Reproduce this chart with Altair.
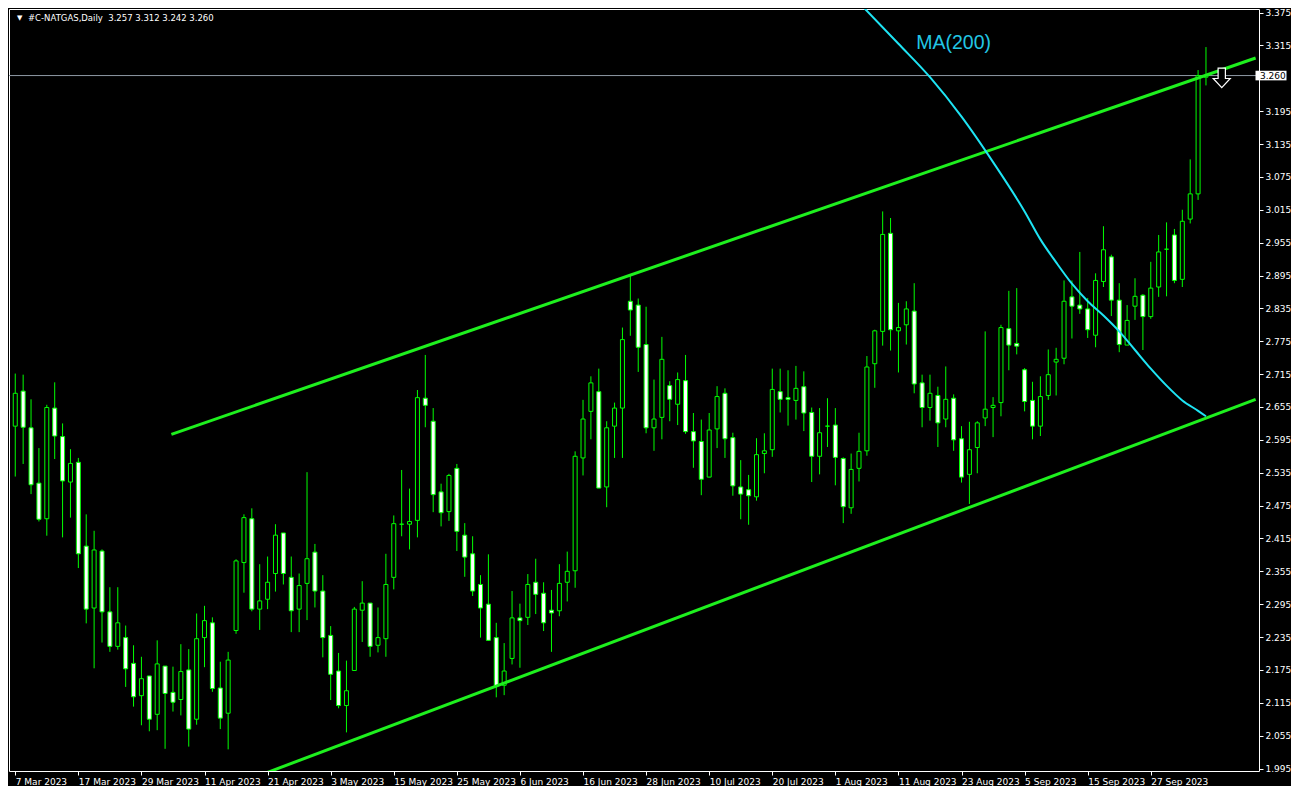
import altair as alt
import pandas as pd

# ---------------- data ----------------
tick_labels = ['7 Mar 2023', '17 Mar 2023', '29 Mar 2023', '11 Apr 2023', '21 Apr 2023',
               '3 May 2023', '15 May 2023', '25 May 2023', '6 Jun 2023', '16 Jun 2023',
               '28 Jun 2023', '10 Jul 2023', '20 Jul 2023', '1 Aug 2023', '11 Aug 2023',
               '23 Aug 2023', '5 Sep 2023', '15 Sep 2023', '27 Sep 2023']
tick_pos = [0, 8, 16, 24, 32, 40, 48, 56, 64, 72, 80, 88, 96, 104, 112, 120, 128, 136, 144]

# 3.255 sits under the highlighted 3.260 price box in the reference
price_ticks = [1.995, 2.055, 2.115, 2.175, 2.235, 2.295, 2.355, 2.415, 2.475, 2.535, 2.595,
               2.655, 2.715, 2.775, 2.835, 2.895, 2.955, 3.015, 3.075, 3.135, 3.195,
               3.315, 3.375]

open_ = [2.620, 2.684, 2.617, 2.516, 2.451, 2.653, 2.601, 2.518, 2.554, 2.401,
         2.288, 2.392, 2.281, 2.218, 2.234, 2.187, 2.128, 2.164, 2.094, 2.182,
         2.134, 2.121, 2.175, 2.085, 2.234, 2.261, 2.142, 2.096, 2.247, 2.371,
         2.451, 2.286, 2.304, 2.351, 2.425, 2.344, 2.286, 2.333, 2.390, 2.319,
         2.238, 2.173, 2.110, 2.174, 2.284, 2.297, 2.220, 2.232, 2.344, 2.441,
         2.441, 2.448, 2.671, 2.629, 2.500, 2.464, 2.543, 2.421, 2.387, 2.331,
         2.295, 2.234, 2.147, 2.196, 2.270, 2.271, 2.335, 2.315, 2.284, 2.283,
         2.335, 2.356, 2.562, 2.647, 2.683, 2.509, 2.620, 2.653, 2.848, 2.841,
         2.769, 2.617, 2.636, 2.694, 2.660, 2.703, 2.610, 2.592, 2.527, 2.615,
         2.680, 2.599, 2.509, 2.504, 2.491, 2.570, 2.577, 2.683, 2.672, 2.667,
         2.692, 2.645, 2.565, 2.620, 2.622, 2.561, 2.471, 2.543, 2.575, 2.734,
         2.793, 2.972, 2.794, 2.805, 2.830, 2.699, 2.654, 2.676, 2.633, 2.671,
         2.597, 2.532, 2.581, 2.635, 2.654, 2.663, 2.798, 2.771, 2.723, 2.667,
         2.620, 2.676, 2.737, 2.744, 2.856, 2.841, 2.834, 2.786, 2.884, 2.929,
         2.850, 2.768, 2.839, 2.859, 2.820, 2.874, 2.943, 2.969, 2.888, 2.998,
         3.044, 3.257]

high = [2.716, 2.714, 2.669, 2.580, 2.659, 2.700, 2.625, 2.578, 2.562, 2.459,
        2.429, 2.395, 2.326, 2.326, 2.256, 2.220, 2.199, 2.164, 2.229, 2.182,
        2.181, 2.222, 2.213, 2.278, 2.292, 2.271, 2.190, 2.208, 2.377, 2.459,
        2.470, 2.368, 2.382, 2.441, 2.425, 2.382, 2.351, 2.536, 2.405, 2.348,
        2.255, 2.206, 2.192, 2.290, 2.337, 2.297, 2.289, 2.387, 2.457, 2.540,
        2.506, 2.686, 2.750, 2.653, 2.515, 2.533, 2.551, 2.443, 2.419, 2.348,
        2.386, 2.261, 2.224, 2.319, 2.296, 2.350, 2.378, 2.335, 2.321, 2.368,
        2.391, 2.574, 2.668, 2.711, 2.725, 2.629, 2.663, 2.800, 2.895, 2.853,
        2.838, 2.705, 2.783, 2.702, 2.718, 2.750, 2.644, 2.632, 2.644, 2.693,
        2.689, 2.608, 2.558, 2.531, 2.598, 2.607, 2.725, 2.725, 2.722, 2.730,
        2.720, 2.654, 2.653, 2.671, 2.653, 2.563, 2.570, 2.608, 2.748, 2.796,
        3.012, 3.000, 2.845, 2.848, 2.881, 2.714, 2.714, 2.692, 2.729, 2.678,
        2.620, 2.628, 2.629, 2.793, 2.673, 2.805, 2.867, 2.872, 2.726, 2.701,
        2.711, 2.760, 2.763, 2.886, 2.886, 2.938, 2.854, 2.899, 2.985, 2.933,
        2.881, 2.841, 2.890, 2.861, 2.920, 2.969, 2.992, 2.980, 3.015, 3.107,
        3.270, 3.312]

low = [2.528, 2.551, 2.496, 2.446, 2.420, 2.560, 2.417, 2.453, 2.361, 2.260,
       2.178, 2.225, 2.208, 2.212, 2.144, 2.108, 2.074, 2.063, 2.065, 2.031,
       2.099, 2.092, 2.035, 2.075, 2.180, 2.135, 2.067, 2.030, 2.241, 2.316,
       2.282, 2.248, 2.286, 2.318, 2.331, 2.244, 2.244, 2.266, 2.289, 2.198,
       2.120, 2.105, 2.061, 2.174, 2.226, 2.199, 2.207, 2.199, 2.322, 2.419,
       2.395, 2.417, 2.618, 2.463, 2.437, 2.447, 2.392, 2.345, 2.310, 2.234,
       2.228, 2.125, 2.129, 2.185, 2.179, 2.257, 2.277, 2.246, 2.208, 2.273,
       2.300, 2.325, 2.530, 2.596, 2.507, 2.472, 2.562, 2.562, 2.785, 2.719,
       2.607, 2.575, 2.596, 2.629, 2.622, 2.606, 2.544, 2.494, 2.527, 2.580,
       2.562, 2.493, 2.450, 2.440, 2.484, 2.534, 2.564, 2.645, 2.621, 2.632,
       2.611, 2.518, 2.532, 2.582, 2.512, 2.443, 2.460, 2.519, 2.566, 2.690,
       2.767, 2.758, 2.718, 2.769, 2.680, 2.618, 2.630, 2.582, 2.618, 2.575,
       2.517, 2.478, 2.534, 2.620, 2.600, 2.638, 2.722, 2.751, 2.647, 2.596,
       2.602, 2.668, 2.676, 2.733, 2.780, 2.825, 2.781, 2.764, 2.874, 2.821,
       2.755, 2.768, 2.814, 2.759, 2.816, 2.856, 2.857, 2.881, 2.874, 2.990,
       3.033, 3.242]

close = [2.680, 2.618, 2.513, 2.450, 2.654, 2.602, 2.520, 2.552, 2.387, 2.286,
         2.394, 2.281, 2.218, 2.261, 2.177, 2.126, 2.159, 2.085, 2.186, 2.132,
         2.116, 2.172, 2.067, 2.232, 2.265, 2.141, 2.087, 2.193, 2.374, 2.453,
         2.286, 2.301, 2.335, 2.421, 2.351, 2.283, 2.329, 2.378, 2.319, 2.234,
         2.167, 2.110, 2.137, 2.286, 2.297, 2.218, 2.234, 2.331, 2.442, 2.441,
         2.446, 2.672, 2.658, 2.495, 2.462, 2.530, 2.428, 2.381, 2.319, 2.288,
         2.229, 2.146, 2.173, 2.270, 2.265, 2.331, 2.313, 2.261, 2.279, 2.333,
         2.355, 2.565, 2.633, 2.699, 2.507, 2.617, 2.653, 2.778, 2.832, 2.764,
         2.617, 2.633, 2.742, 2.669, 2.705, 2.610, 2.593, 2.523, 2.613, 2.674,
         2.597, 2.511, 2.496, 2.493, 2.568, 2.575, 2.687, 2.669, 2.669, 2.689,
         2.644, 2.565, 2.608, 2.620, 2.563, 2.473, 2.541, 2.574, 2.728, 2.794,
         2.970, 2.796, 2.800, 2.834, 2.697, 2.654, 2.680, 2.626, 2.669, 2.595,
         2.527, 2.577, 2.626, 2.651, 2.658, 2.800, 2.768, 2.766, 2.665, 2.620,
         2.674, 2.714, 2.742, 2.848, 2.839, 2.834, 2.796, 2.886, 2.942, 2.850,
         2.769, 2.813, 2.857, 2.820, 2.872, 2.938, 2.943, 2.886, 2.994, 3.044,
         3.260, 3.260]

# MA(200) line (bar index, price)
ma_idx = [107.6, 112, 116, 120, 124, 128, 130, 132, 134, 136, 138, 140, 142, 144, 146, 148, 150, 151]
ma_val = [3.384, 3.318, 3.257, 3.185, 3.102, 3.012, 2.961, 2.919, 2.880, 2.848, 2.822,
          2.793, 2.759, 2.725, 2.694, 2.667, 2.648, 2.638]

# channel lines (bar index, price)
upper_idx = [19.8, 157.3]
upper_val = [2.605, 3.292]
lower_idx = [32.0, 157.3]
lower_val = [1.988, 2.669]

last_price = 3.260
header = "#C-NATGAS,Daily\u00a0\u00a03.257 3.312 3.242 3.260"

# ---------------- chart ----------------
X_DOM = [-0.16, 157.09]
Y_DOM = [1.9905, 3.3815]
W, H = 1250, 762
FONT = "DejaVu Sans"
GREEN = "#00ff00"
LINE_GREEN = "#1ef01e"
CYAN = "#1ee4f4"

xs = alt.Scale(domain=X_DOM, nice=False, zero=False)
ys = alt.Scale(domain=Y_DOM, nice=False, zero=False)

df = pd.DataFrame({"i": list(range(len(open_))), "open": open_, "high": high,
                   "low": low, "close": close})

label_expr = "[" + ",".join("'%s'" % t for t in tick_labels) + "][round(datum.value/8)]"

x_axis = alt.Axis(values=tick_pos, labelExpr=label_expr, orient="bottom", labelAlign="left",
                  labelPadding=2, tickSize=4, tickColor="white", labelColor="white",
                  labelFont=FONT, labelFontSize=9, domain=False, grid=False, title=None,
                  labelOverlap=False, labelFlush=False, labelBound=False)
y_axis = alt.Axis(values=price_ticks, format=".3f", orient="right", tickSize=4,
                  tickColor="white", labelColor="white", labelFont=FONT, labelFontSize=9,
                  labelPadding=2, domain=False, grid=False, title=None,
                  labelOverlap=False, labelFlush=False, labelBaseline="middle")


def X(field):
    return alt.X(field, scale=xs, axis=x_axis)


def Y(field):
    return alt.Y(field, scale=ys, axis=y_axis)


price_line = alt.Chart(pd.DataFrame({"p": [last_price]})).mark_rule(
    color="#8e99a4", strokeWidth=1).encode(y=Y("p:Q"))

wicks = alt.Chart(df).mark_rule(color=GREEN, strokeWidth=1).encode(
    x=X("i:Q"), y=Y("low:Q"), y2="high:Q")

bodies = alt.Chart(df).mark_bar(width=4, stroke=GREEN, strokeWidth=1).encode(
    x=X("i:Q"), y=Y("open:Q"), y2="close:Q",
    fill=alt.condition("datum.close < datum.open", alt.value("white"), alt.value("black")))

chan_df = pd.DataFrame({
    "idx": upper_idx + lower_idx,
    "val": upper_val + lower_val,
    "line": ["upper"] * len(upper_idx) + ["lower"] * len(lower_idx)})
channel = alt.Chart(chan_df).mark_line(color=LINE_GREEN, strokeWidth=3, clip=True).encode(
    x=X("idx:Q"), y=Y("val:Q"), detail="line:N")

ma_df = pd.DataFrame({"idx": ma_idx, "val": ma_val})
ma = alt.Chart(ma_df).mark_line(color=CYAN, strokeWidth=2, clip=True,
                                interpolate="monotone").encode(
    x=X("idx:Q"), y=Y("val:Q"))

ma_label = alt.Chart(pd.DataFrame({"idx": [119.0], "val": [3.319], "t": ["MA(200)"]})).mark_text(
    color="#22c6e4", font="Liberation Sans", fontSize=19.5, align="center",
    baseline="middle").encode(x=X("idx:Q"), y=Y("val:Q"), text="t:N")

arrow_path = "M-0.3,-0.8L0.3,-0.8L0.3,0.05L0.7,0.05L0,0.8L-0.7,0.05L-0.3,0.05Z"
arrow = alt.Chart(pd.DataFrame({"idx": [153.0], "val": [3.2557]})).mark_point(
    shape=arrow_path, size=590, filled=True, fill="black", stroke="white",
    strokeWidth=1.2, opacity=1).encode(x=X("idx:Q"), y=Y("val:Q"))

corner = pd.DataFrame({"idx": [X_DOM[0]], "val": [Y_DOM[1]]})
tri = alt.Chart(corner).mark_text(text="\u25bc", color="white", font=FONT, fontSize=7,
                                  align="left", baseline="middle", dx=3, dy=8.5).encode(
    x=X("idx:Q"), y=Y("val:Q"))
head = alt.Chart(corner).mark_text(text=header, color="white", font=FONT, fontSize=8.5,
                                   align="left", baseline="middle", dx=14, dy=8.5).encode(
    x=X("idx:Q"), y=Y("val:Q"))

edge = pd.DataFrame({"idx": [X_DOM[1]], "val": [last_price], "t": ["%.3f" % last_price]})
box = alt.Chart(edge).mark_point(
    shape="M-1,-0.31L1,-0.31L1,0.31L-1,0.31Z", size=961, filled=True, fill="white",
    opacity=1, strokeWidth=0, xOffset=17).encode(x=X("idx:Q"), y=Y("val:Q"))
box_text = alt.Chart(edge).mark_text(color="black", font=FONT, fontSize=9, align="left",
                                     baseline="middle", dx=6).encode(
    x=X("idx:Q"), y=Y("val:Q"), text="t:N")

chart = alt.layer(
    price_line, wicks, bodies, channel, ma, ma_label, arrow, tri, head, box, box_text
).properties(
    width=W, height=H, background="black", padding=0
).configure_view(
    stroke="white", strokeWidth=1, fill="black"
)

chart.save("out.html", embed_options={"renderer": "svg", "actions": False})
